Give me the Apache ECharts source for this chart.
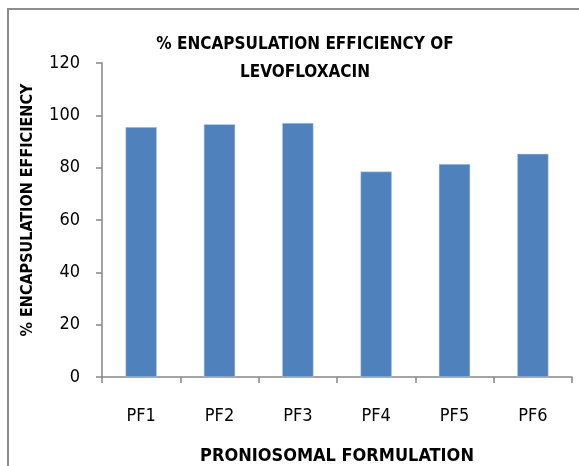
<!DOCTYPE html>
<html>
<head>
<meta charset="utf-8">
<script src="https://cdn.jsdelivr.net/npm/echarts@6/dist/echarts.min.js"></script>
<style>
  html, body { margin: 0; padding: 0; background: #fff; }
  #chart { width: 579px; height: 466px; }
</style>
</head>
<body>
<div id="chart"></div>
<script>
// data
var categories = ['PF1', 'PF2', 'PF3', 'PF4', 'PF5', 'PF6'];
var efficiency = [95.5, 96.6, 97.1, 78.5, 81.4, 85.3];
var yTicks = [0, 20, 40, 60, 80, 100, 120];

var FONT = '"DejaVu Sans Condensed", "Liberation Sans Narrow", "Open Sans", sans-serif';
var AXIS_GREY = '#868686';

var myChart = echarts.init(document.getElementById('chart'));
var option = {
  backgroundColor: '#fff',
  animation: false,
  title: {
    text: '% ENCAPSULATION EFFICIENCY OF\nLEVOFLOXACIN',
    left: 300,
    top: 26,
    textAlign: 'center',
    textStyle: {
      fontFamily: FONT,
      fontWeight: 'bold',
      fontSize: 17,
      lineHeight: 28,
      color: '#000'
    }
  },
  graphic: [
    {
      // outer chart frame, runs off the right and bottom edges
      type: 'rect',
      shape: { x: 8, y: 9, width: 600, height: 500 },
      style: { fill: 'none', stroke: '#8c8c8c', lineWidth: 2 },
      silent: true
    }
  ],
  grid: {
    left: 102,
    right: 7,
    top: 63,
    bottom: 89,
    outerBoundsMode: 'none'
  },
  xAxis: {
    type: 'category',
    data: categories,
    name: 'PRONIOSOMAL FORMULATION',
    nameLocation: 'middle',
    nameGap: 70,
    nameTextStyle: { fontFamily: FONT, fontWeight: 'bold', fontSize: 18, color: '#000' },
    axisLine: { lineStyle: { color: AXIS_GREY, width: 1.5 } },
    axisTick: { show: true, alignWithLabel: false, length: 6, lineStyle: { color: AXIS_GREY, width: 1.5 } },
    axisLabel: { fontFamily: FONT, fontSize: 18, color: '#000', margin: 30 }
  },
  yAxis: {
    type: 'value',
    min: yTicks[0],
    max: yTicks[yTicks.length - 1],
    interval: yTicks[1] - yTicks[0],
    name: '% ENCAPSULATION EFFICIENCY',
    nameLocation: 'middle',
    nameGap: 66,
    nameRotate: 90,
    nameTextStyle: { fontFamily: FONT, fontWeight: 'bold', fontSize: 16, color: '#000', padding: [0, 0, 0, 20] },
    axisLine: { show: true, lineStyle: { color: AXIS_GREY, width: 1.5 } },
    axisTick: { show: true, length: 6, lineStyle: { color: AXIS_GREY, width: 1.5 } },
    axisLabel: { fontFamily: FONT, fontSize: 18, color: '#000', margin: 22 },
    splitLine: { show: false }
  },
  series: [
    {
      type: 'bar',
      data: efficiency,
      barWidth: '40%',
      itemStyle: { color: '#4F81BD', borderColor: '#c9d6ea', borderWidth: 0.5 }
    }
  ]
};
myChart.setOption(option);
</script>
</body>
</html>
